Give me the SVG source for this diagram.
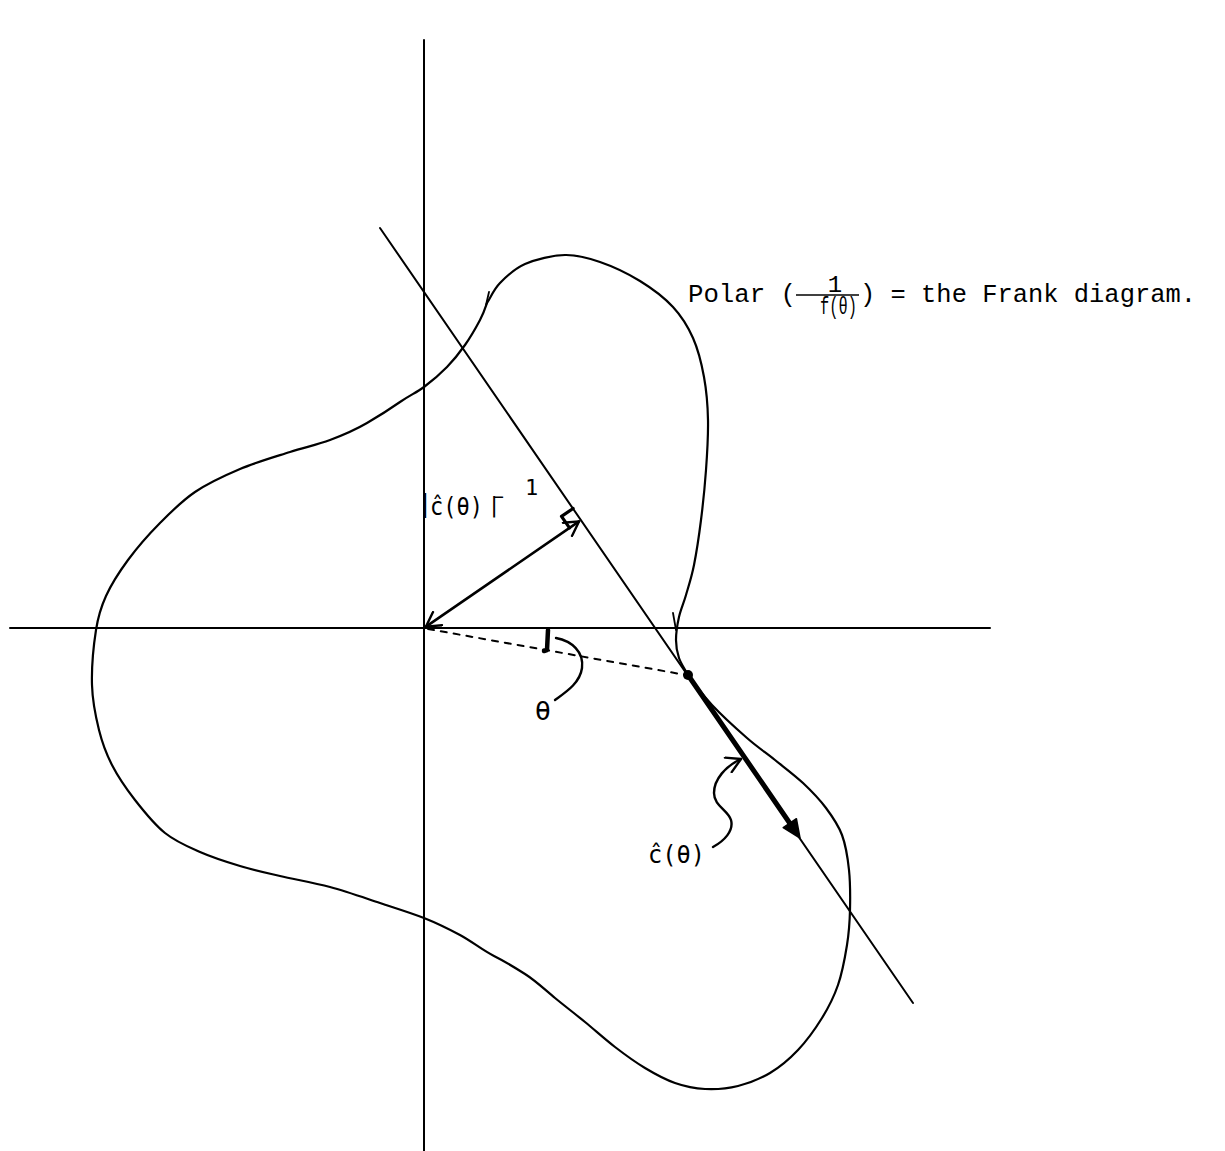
<svg xmlns="http://www.w3.org/2000/svg" width="1225" height="1151" viewBox="0 0 1225 1151">
<style>
.ln{fill:none;stroke:#000;stroke-linecap:round;stroke-linejoin:round}
.ttl{font-family:"Liberation Mono","DejaVu Sans Mono",monospace;fill:#000}
.lbl{font-family:"DejaVu Sans Mono","Liberation Mono",monospace;fill:#000}
</style>
<defs>
<marker id="open" viewBox="0 0 18 18" refX="16" refY="9" markerWidth="18" markerHeight="18" markerUnits="userSpaceOnUse" orient="auto-start-reverse">
<path d="M2,1 L16,9 L2,17" fill="none" stroke="#000" stroke-width="2.4" stroke-linejoin="round" stroke-linecap="round"/>
</marker>
</defs>
<rect width="1225" height="1151" fill="#fff"/>
<g id="axes">
<line class="ln" x1="424" y1="40" x2="424" y2="1151" stroke-width="2"/>
<line class="ln" x1="10" y1="628" x2="990" y2="628" stroke-width="2"/>
</g>
<g id="frank-curve">
<path class="ln" stroke-width="2.2" d="M 688 675 C 695 685, 702.2 694.5, 712 705 S 736.5 728.8, 747 738 S 765.7 752.5, 775 760 S 794.5 775, 803 783 S 819.5 799.3, 826 808 S 838.2 824.7, 842 835 S 847.7 857.5, 849 870 S 850.3 897.5, 850 910 S 849 932.5, 847 945 S 842.2 972.8, 838 985 S 828.7 1007.2, 822 1018 S 806.7 1040.8, 798 1050 S 780 1067, 770 1073 S 748.8 1083.3, 738 1086 S 715.5 1089.5, 705 1089 S 685 1086.5, 675 1083 S 655 1074, 645 1068 S 625 1054.7, 615 1047 S 595 1030.2, 585 1022 S 565 1006.2, 555 998 S 536 981, 525 974 S 506 962, 494 956 S 471.8 941.3, 460 935 S 437.3 923.3, 424 918 S 395.7 908.2, 380 903 S 346.7 891.5, 330 887 S 295 879.5, 280 876 S 253.3 870, 240 866 S 212.5 857.5, 200 852 S 175.8 841.7, 165 833 S 143.8 811.3, 135 800 S 118 776.7, 112 765 S 102.3 743.3, 99 730 S 92.5 701.7, 92 685 S 93.7 644.8, 96 630 S 100.7 607.7, 106 596 S 119 572.2, 128 560 S 148.8 534.3, 160 523 S 181.7 501, 195 492 S 224.2 475.7, 240 469 S 275 456.8, 290 452 S 317.2 444.8, 330 440 S 355 430, 367 423 S 390 409, 400 402 S 416.2 392.8, 424 387 S 440.2 374, 447 367 S 459.5 352.8, 465 345 S 476.3 327, 480 320 S 485 309, 487 303"/>
<path class="ln" stroke-width="2.2" d="M 487 303 C 491.3 296.3, 493.7 289.5, 500 283 S 514.2 268.7, 525 264 S 552.5 255.3, 565 255 S 587.5 257.7, 600 262 S 627.8 273.5, 640 281 S 664.2 297.5, 673 307 S 687.8 326.3, 693 338 S 701.5 363.3, 704 377 S 707.7 404.5, 708 420 S 707.2 453.3, 706 470 S 703 504.2, 701 520 S 696.5 552.5, 694 565 S 688.5 586.3, 686 595 S 680.7 609.5, 679 617 S 676 633.2, 676 640 S 677 652.2, 679 658 S 685 669.3, 688 675"/>
<path class="ln" stroke-width="1.8" d="M 486 305 L 489 292"/>
<path class="ln" stroke-width="1.8" d="M 673 613 L 676 630"/>
</g>
<g id="tangent-line">
<line class="ln" x1="380" y1="228" x2="913" y2="1003" stroke-width="2"/>
<polyline class="ln" stroke-width="3.2" points="573.1,508.5 561.5,516.4 569.5,527.9"/>
</g>
<g id="connectors">
<line class="ln" x1="426" y1="626.6" x2="579" y2="521.4" stroke-width="2.6" marker-start="url(#open)" marker-end="url(#open)"/>
<line class="ln" x1="428" y1="629" x2="686" y2="675" stroke-width="2" stroke-dasharray="6,7" stroke-linecap="butt"/>
<circle cx="688" cy="675" r="5" fill="#000"/>
<line class="ln" x1="688" y1="675" x2="791" y2="825" stroke-width="5"/>
<polygon points="800,838 796.4,818.7 783.2,827.7" fill="#000" stroke="#000" stroke-width="1.5" stroke-linejoin="round"/>
<path class="ln" stroke-width="4.5" d="M 548 630 L 547 650 L 544 651"/>
<path class="ln" stroke-width="2.4" d="M 556 638 C 572 641, 584 652, 582 668 C 580 683, 566 692, 555 700"/>
<path class="ln" stroke-width="2.4" d="M 713 847 C 724 841, 734 831, 731 820 C 728 810, 714 806, 714 793 C 714 779, 726 766, 741 759" marker-end="url(#open)"/>
</g>
<g id="labels">
<text class="ttl" x="688" y="302" font-size="26" textLength="108" lengthAdjust="spacingAndGlyphs">Polar (</text>
<text class="ttl" x="835" y="292" font-size="24" text-anchor="middle">1</text>
<line x1="796" y1="295" x2="859" y2="295" stroke="#000" stroke-width="1.6"/>
<text class="ttl" x="820" y="314" font-size="23" textLength="37" lengthAdjust="spacingAndGlyphs">f(θ)</text>
<text class="ttl" x="860" y="302" font-size="26" textLength="336" lengthAdjust="spacingAndGlyphs">) = the Frank diagram.</text>
<text class="lbl" font-size="25"><tspan x="425" y="512" text-anchor="middle">|</tspan><tspan x="430" y="515" textLength="53" lengthAdjust="spacingAndGlyphs">ĉ(θ)</tspan><tspan x="494" y="512" font-size="22" text-anchor="middle">|</tspan><tspan x="493" y="503" font-size="18">−</tspan><tspan x="525" y="495" font-size="22">1</tspan></text>
<text class="lbl" x="543" y="720" font-size="27" text-anchor="middle">θ</text>
<text class="lbl" x="648" y="863" font-size="25" textLength="57" lengthAdjust="spacingAndGlyphs">ĉ(θ)</text>
</g>
</svg>
